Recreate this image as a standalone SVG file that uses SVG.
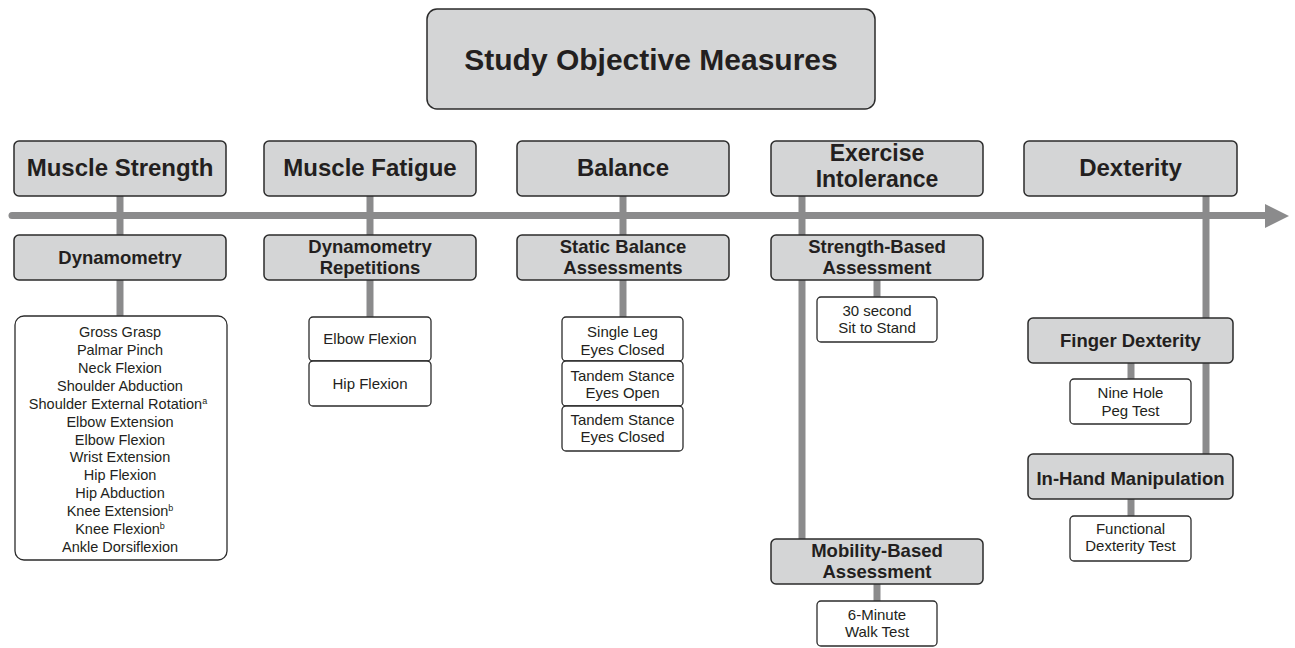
<svg xmlns="http://www.w3.org/2000/svg" width="1295" height="648" viewBox="0 0 1295 648">
<style>
.g{fill:#d4d5d6;stroke:#2b2b2b;stroke-width:1.5}
.w{fill:#ffffff;stroke:#2b2b2b;stroke-width:1.3}
.ln{stroke:#8b8b8c;stroke-width:7;fill:none}
text{font-family:"Liberation Sans",Arial,sans-serif;fill:#231f20;text-anchor:middle}
.t0{font-size:30px;font-weight:bold}
.t1{font-size:24px;font-weight:bold}
.t1b{font-size:23px;font-weight:bold}
.t2{font-size:18.5px;font-weight:bold}
.t3{font-size:14.5px}
.t4{font-size:15px}
.sup{font-size:9px}
</style>
<rect width="1295" height="648" fill="#ffffff"/>
<g id="connectors">
<line class="ln" x1="12" y1="215.5" x2="1267" y2="215.5" stroke-linecap="round"/>
<polygon points="1265,204 1289,216 1265,228" fill="#8b8b8c"/>
<line class="ln" x1="120" y1="196" x2="120" y2="316"/>
<line class="ln" x1="370" y1="196" x2="370" y2="317"/>
<line class="ln" x1="623" y1="196" x2="623" y2="317"/>
<line class="ln" x1="802" y1="196" x2="802" y2="539"/>
<line class="ln" x1="877" y1="280" x2="877" y2="297"/>
<line class="ln" x1="877" y1="584" x2="877" y2="601"/>
<line class="ln" x1="1206" y1="196" x2="1206" y2="454"/>
<line class="ln" x1="1131" y1="363" x2="1131" y2="379"/>
<line class="ln" x1="1131" y1="499" x2="1131" y2="516"/>
</g>
<g id="title">
<rect class="g" x="427" y="9" width="448" height="100" rx="10"/>
<text class="t0" x="651" y="70">Study Objective Measures</text>
</g>
<g id="muscle-strength">
<rect class="g" x="14" y="141" width="212" height="55" rx="5"/>
<text class="t1" x="120" y="176">Muscle Strength</text>
</g>
<g id="dynamometry">
<rect class="g" x="14" y="235" width="212" height="45" rx="5"/>
<text class="t2" x="120" y="264">Dynamometry</text>
</g>
<g id="strength-list">
<rect class="w" x="15" y="316" width="212" height="244" rx="9"/>
<text class="t3" x="120" y="337">Gross Grasp</text>
<text class="t3" x="120" y="355">Palmar Pinch</text>
<text class="t3" x="120" y="373">Neck Flexion</text>
<text class="t3" x="120" y="390.5">Shoulder Abduction</text>
<text class="t3" x="118" y="408.5">Shoulder External Rotation<tspan class="sup" dy="-5">a</tspan></text>
<text class="t3" x="120" y="426.5">Elbow Extension</text>
<text class="t3" x="120" y="444.5">Elbow Flexion</text>
<text class="t3" x="120" y="462">Wrist Extension</text>
<text class="t3" x="120" y="480">Hip Flexion</text>
<text class="t3" x="120" y="498">Hip Abduction</text>
<text class="t3" x="120" y="516">Knee Extension<tspan class="sup" dy="-5">b</tspan></text>
<text class="t3" x="120" y="534">Knee Flexion<tspan class="sup" dy="-5">b</tspan></text>
<text class="t3" x="120" y="552">Ankle Dorsiflexion</text>
</g>
<g id="muscle-fatigue">
<rect class="g" x="264" y="141" width="212" height="55" rx="5"/>
<text class="t1" x="370" y="176">Muscle Fatigue</text>
</g>
<g id="dynamometry-repetitions">
<rect class="g" x="264" y="235" width="212" height="45" rx="5"/>
<text class="t2" x="370" y="253">Dynamometry</text>
<text class="t2" x="370" y="274">Repetitions</text>
</g>
<g id="elbow-flexion">
<rect class="w" x="309" y="317" width="122" height="44" rx="4"/>
<text class="t4" x="370" y="344">Elbow Flexion</text>
</g>
<g id="hip-flexion">
<rect class="w" x="309" y="361" width="122" height="45" rx="4"/>
<text class="t4" x="370" y="389">Hip Flexion</text>
</g>
<g id="balance">
<rect class="g" x="517" y="141" width="212" height="55" rx="5"/>
<text class="t1" x="623" y="176">Balance</text>
</g>
<g id="static-balance">
<rect class="g" x="517" y="235" width="212" height="45" rx="5"/>
<text class="t2" x="623" y="253">Static Balance</text>
<text class="t2" x="623" y="274">Assessments</text>
</g>
<g id="single-leg">
<rect class="w" x="562" y="317" width="121" height="44" rx="4"/>
<text class="t4" x="622.5" y="337">Single Leg</text>
<text class="t4" x="622.5" y="354.5">Eyes Closed</text>
</g>
<g id="tandem-open">
<rect class="w" x="562" y="361" width="121" height="45" rx="4"/>
<text class="t4" x="622.5" y="381">Tandem Stance</text>
<text class="t4" x="622.5" y="398">Eyes Open</text>
</g>
<g id="tandem-closed">
<rect class="w" x="562" y="406" width="121" height="45" rx="4"/>
<text class="t4" x="622.5" y="425">Tandem Stance</text>
<text class="t4" x="622.5" y="442">Eyes Closed</text>
</g>
<g id="exercise-intolerance">
<rect class="g" x="771" y="141" width="212" height="55" rx="5"/>
<text class="t1b" x="877" y="160.5">Exercise</text>
<text class="t1b" x="877" y="187">Intolerance</text>
</g>
<g id="strength-based">
<rect class="g" x="771" y="235" width="212" height="45" rx="5"/>
<text class="t2" x="877" y="253">Strength-Based</text>
<text class="t2" x="877" y="274">Assessment</text>
</g>
<g id="sit-to-stand">
<rect class="w" x="817" y="297" width="120" height="45" rx="4"/>
<text class="t4" x="877" y="315.5">30 second</text>
<text class="t4" x="877" y="333">Sit to Stand</text>
</g>
<g id="mobility-based">
<rect class="g" x="771" y="539" width="212" height="45" rx="5"/>
<text class="t2" x="877" y="557">Mobility-Based</text>
<text class="t2" x="877" y="578">Assessment</text>
</g>
<g id="six-minute">
<rect class="w" x="817" y="601" width="120" height="45" rx="4"/>
<text class="t4" x="877" y="619.5">6-Minute</text>
<text class="t4" x="877" y="637">Walk Test</text>
</g>
<g id="dexterity">
<rect class="g" x="1024" y="141" width="213" height="55" rx="5"/>
<text class="t1" x="1130.5" y="176">Dexterity</text>
</g>
<g id="finger-dexterity">
<rect class="g" x="1028" y="318" width="205" height="45" rx="5"/>
<text class="t2" x="1130.5" y="347">Finger Dexterity</text>
</g>
<g id="nine-hole">
<rect class="w" x="1070" y="379" width="121" height="45" rx="4"/>
<text class="t4" x="1130.5" y="398">Nine Hole</text>
<text class="t4" x="1130.5" y="416">Peg Test</text>
</g>
<g id="in-hand">
<rect class="g" x="1028" y="454" width="205" height="45" rx="5"/>
<text class="t2" x="1130.5" y="485">In-Hand Manipulation</text>
</g>
<g id="functional-dexterity">
<rect class="w" x="1070" y="516" width="121" height="45" rx="4"/>
<text class="t4" x="1130.5" y="534">Functional</text>
<text class="t4" x="1130.5" y="551">Dexterity Test</text>
</g>
</svg>
